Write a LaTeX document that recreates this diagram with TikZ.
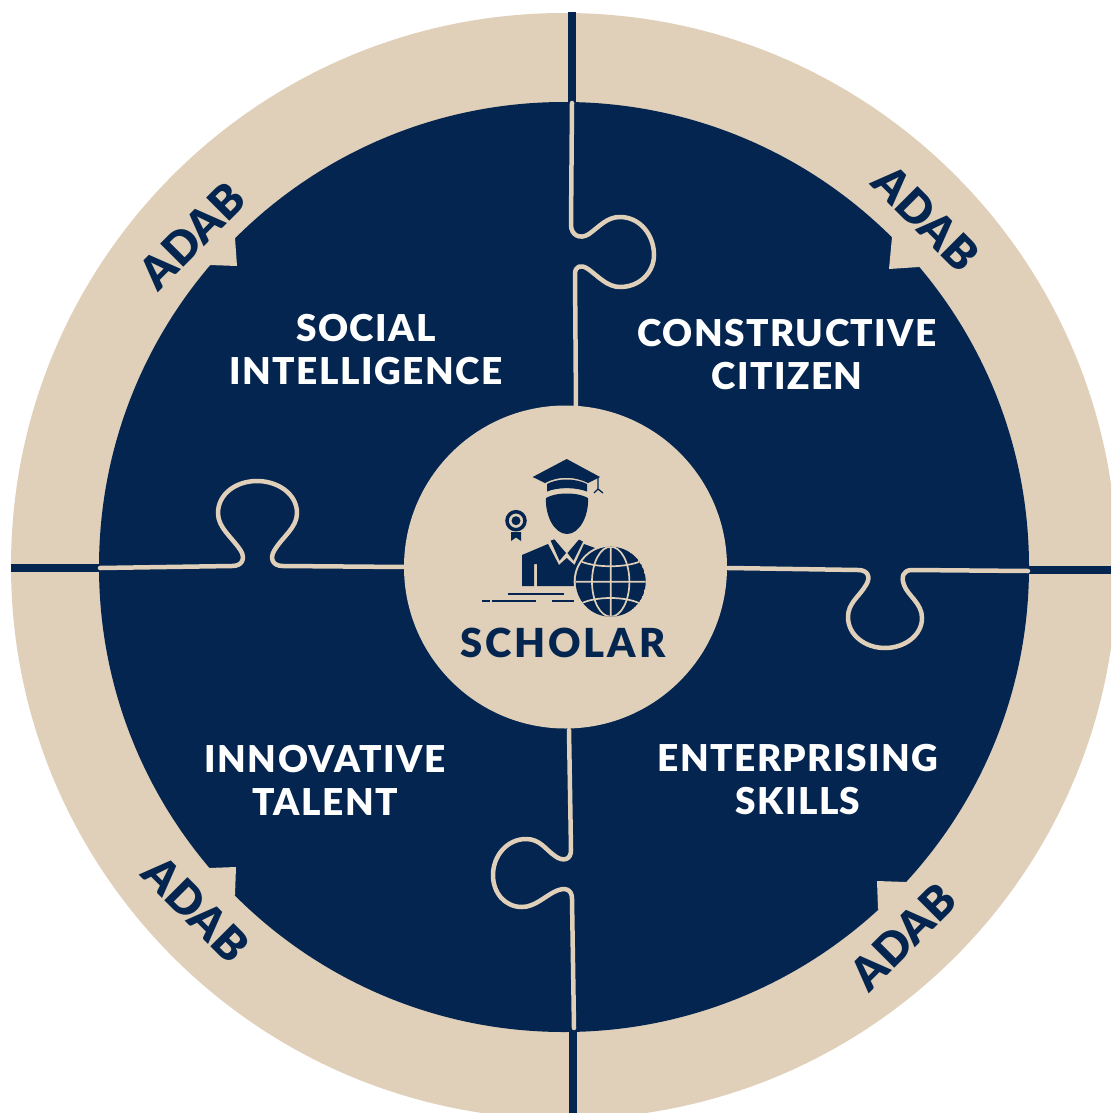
\documentclass[tikz,border=0pt]{standalone}
\usepackage{fontspec}
\setmainfont[BoldFont={Lato Black}]{Lato}
\definecolor{navy}{HTML}{03254F}
\definecolor{sand}{HTML}{E0CFB9}
\tikzset{
  pillar/.style={font=\fontsize{37}{43}\selectfont\bfseries\addfontfeature{LetterSpace=4}, text=white, align=center, inner sep=0pt},
  adab/.style={font=\fontsize{45}{48}\selectfont\bfseries, text=navy, inner sep=0pt},
  seam/.style={draw=sand, line width=4.5pt, line cap=round, line join=round},
  divider/.style={draw=navy, line width=7.5pt},
  barb/.style={fill=sand, draw=none}
}
\begin{document}
\begin{tikzpicture}[x=1pt,y=-1pt]
\useasboundingbox (0,0) rectangle (1111,1113);
\clip (0,0) rectangle (1111,1113);
% rim and disc
\fill[sand] (564,566) circle (553);
\fill[navy] (564,567) circle (465);
\draw[divider] (572,12) -- (572,103);
\draw[divider] (573,1030) -- (573,1113);
\draw[divider] (11,568) -- (99,568);
\draw[divider] (1029,570) -- (1111,570);
% arrow barbs
\fill[barb] (235,238) -- (237,266) -- (210,265) -- (200,240) -- cycle;
\fill[barb] (892,237) -- (889,269) -- (919,267) -- (930,240) -- cycle;
\fill[barb] (877,881) -- (906,882) -- (915,905) -- (890,920) -- (878,909) -- cycle;
\fill[barb] (209,868) -- (236,867) -- (235,895) -- (215,910) -- (195,890) -- cycle;
% puzzle seams
\draw[seam] (572,103) -- (571,225) .. controls (571,235) and (580,240) .. (589,234) .. controls (600,226) and (607,217) .. (620,217) .. controls (640,217) and (654,235) .. (654,255) .. controls (654,272) and (640,287) .. (620,287) .. controls (607,287) and (598,276) .. (588,269) .. controls (581,264) and (575,266) .. (575,274) -- (576,407);
\draw[seam] (100,568) -- (232,566) .. controls (243,566) and (245,558) .. (241,551) .. controls (232,537) and (218,528) .. (218,513) .. controls (218,494) and (236,481) .. (257,481) .. controls (278,481) and (297,494) .. (297,513) .. controls (297,528) and (282,537) .. (274,551) .. controls (270,558) and (272,566) .. (283,566) -- (405,567);
\draw[seam] (728,568) -- (858,570) .. controls (868,570) and (871,577) .. (866,585) .. controls (859,597) and (848,603) .. (848,617) .. controls (848,635) and (865,648) .. (885,648) .. controls (905,648) and (922,635) .. (922,618) .. controls (922,603) and (908,596) .. (904,585) .. controls (901,577) and (903,570) .. (912,570) -- (1028,571);
\draw[seam] (569,730) -- (571,850) .. controls (571,860) and (563,862) .. (555,856) .. controls (545,849) and (540,839) .. (526,839) .. controls (507,839) and (493,856) .. (493,875) .. controls (493,893) and (505,907) .. (522,907) .. controls (535,907) and (545,896) .. (556,891) .. controls (565,887) and (572,889) .. (572,899) -- (574,1028);
% hub
\node[circle, fill=sand, minimum size=323pt, inner sep=0pt] (hub) at (565.5,567) {};
% scholar icon
\fill[navy] (532.7,477) -- (566.7,459) -- (600,477) -- (588,483) .. controls (574,476) and (558,476) .. (545,483) -- cycle;
\fill[navy] (547,484) .. controls (558,478) and (575,478) .. (587,484) -- (587,491.5) .. controls (575,487) and (558,487) .. (547,491.5) -- cycle;
\draw[navy, line width=1.3pt] (598,478) -- (598,490) (594,493) -- (598,489) -- (603,493);
\fill[navy] (546,498) .. controls (556,492) and (578,492) .. (588,498) .. controls (589,515) and (580,534) .. (567,534) .. controls (554,534) and (545,515) .. (546,498) -- cycle;
\draw[navy, line width=3.5pt] (516,520.7) circle (9);
\fill[navy] (516,520.7) circle (4.5);
\fill[navy] (511,532) -- (521,532) -- (521,541) -- (516,537.5) -- (511,541) -- cycle;
\fill[navy] (522,555) -- (548,544) -- (559,565) -- (566.7,558) -- (574.5,565) -- (584,544) -- (595,548) -- (600,586) -- (537,586) -- (537,564) -- (534,564) -- (534,586) -- (522,586) -- cycle;
\fill[navy] (550.7,540.7) -- (554.3,539.3) -- (566,553) -- (559.5,560.7) -- cycle;
\fill[navy] (579,539.5) -- (583,541.7) -- (573.5,560.7) -- (567.5,553) -- cycle;
\fill[sand] (610.7,581.7) circle (37);
\begin{scope}
\clip (610.7,581.7) circle (35);
\fill[navy] (610.7,581.7) circle (35);
\draw[sand, line width=1.7pt] (610.7,540) -- (610.7,620) (570,581.7) -- (650,581.7) (610.7,581.7) ellipse (18.7 and 35);
\draw[sand, line width=1.7pt] (580,561) .. controls (595,568) and (626,568) .. (641,561);
\draw[sand, line width=1.7pt] (580,604) .. controls (595,596) and (626,596) .. (641,604);
\end{scope}
\draw[navy, line width=2.2pt] (508,594.3) -- (564,594.3) (482,600.7) -- (490,600.7) (491.7,600.7) -- (536,600.7) (551.7,600.7) -- (574,600.7);
\node[font=\fontsize{40}{44}\selectfont\bfseries\addfontfeature{LetterSpace=7}, text=navy, inner sep=0pt] (scholar) at (563,643) {SCHOLAR};
% quarter labels
\node[pillar] (social) at (366,350) {SOCIAL\\INTELLIGENCE};
\node[pillar] (citizen) at (787,355) {CONSTRUCTIVE\\CITIZEN};
\node[pillar] (talent) at (325,780) {INNOVATIVE\\TALENT};
\node[pillar] (skills) at (798,780) {ENTERPRISING\\SKILLS};
% rim labels
\node[adab, rotate=45] (adabnw) at (192,236) {ADAB};
\node[adab, rotate=-45] (adabne) at (926,218) {ADAB};
\node[adab, rotate=45] (adabse) at (903,937) {ADAB};
\node[adab, rotate=-45] (adabsw) at (196,909) {ADAB};
\end{tikzpicture}
\end{document}
